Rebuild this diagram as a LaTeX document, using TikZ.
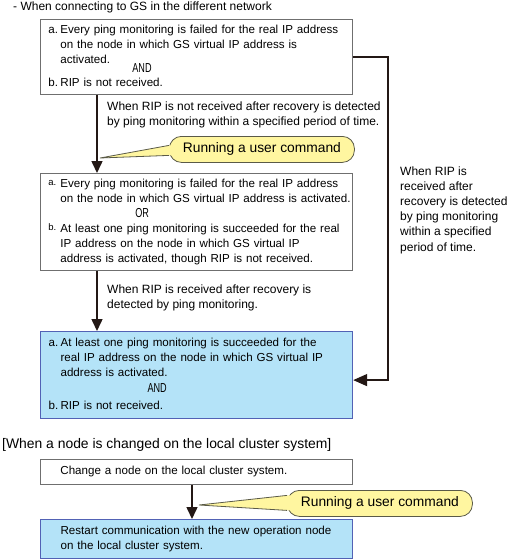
\documentclass[tikz,border=0pt]{standalone}
\usepackage{fontspec}
\setmainfont{Liberation Sans}
\usepackage{graphicx}
\usetikzlibrary{arrows.meta}

\definecolor{inkline}{HTML}{231815}
\definecolor{boxline}{HTML}{6F6F6F}
\definecolor{goalfill}{HTML}{B4E3F8}
\definecolor{goalline}{HTML}{5262B5}
\definecolor{tipfill}{HTML}{FFF6A0}
\definecolor{tipline}{HTML}{5A5A48}

\newcommand{\joinword}[1]{\scalebox{0.7}[1]{\fontsize{13}{13}\selectfont #1}}
\newcommand{\itemmark}[1]{\makebox[12pt][l]{#1}}
\newcommand{\smallmark}[1]{\raisebox{1.5pt}{\fontsize{9.5}{9.5}\selectfont #1}}

\begin{document}
\begin{tikzpicture}[x=1pt, y=-1pt,
  condbox/.style={draw=boxline, line width=0.8pt, fill=white, anchor=north west,
    text width=296pt, align=left, inner xsep=8pt, inner ysep=0pt,
    font=\fontsize{11.6}{15}\selectfont},
  goalbox/.style={condbox, draw=goalline, fill=goalfill, line width=1.2pt},
  note/.style={anchor=west, align=left, inner sep=0pt, font=\fontsize{12}{15.2}\selectfont},
  bubble/.style={draw=tipline, fill=tipfill, line width=0.8pt, rounded corners=12pt,
    minimum height=26pt, minimum width=185pt, anchor=north west,
    font=\fontsize{13.8}{16}\selectfont},
  flow/.style={draw=inkline, line width=1.5pt, -{Triangle[length=12pt,width=11pt]}}
]
\useasboundingbox (0,0) rectangle (511,560);

% different network
\node[note] (head1) at (13,7) {- When connecting to GS in the different network};

\node[condbox, minimum height=75pt] (cond1) at (40,19) {%
  \begin{tabular}{@{}l@{}l@{}}
  \itemmark{a.} & Every ping monitoring is failed for the real IP address\\
   & on the node in which GS virtual IP address is\\
   & activated.\\[-6pt]
   & \hspace*{72pt}\joinword{AND}\\[-1pt]
  \itemmark{b.} & RIP is not received.
  \end{tabular}};

\node[condbox, minimum height=97pt] (cond2) at (40,173) {%
  \begin{tabular}{@{}l@{}l@{}}
  \itemmark{\smallmark{a.}} & Every ping monitoring is failed for the real IP address\\
   & on the node in which GS virtual IP address is activated.\\
   & \hspace*{75pt}\joinword{OR}\\
  \itemmark{\smallmark{b.}} & At least one ping monitoring is succeeded for the real\\
   & IP address on the node in which GS virtual IP\\
   & address is activated, though RIP is not received.
  \end{tabular}};

\node[goalbox, minimum height=87pt] (goal1) at (40,331) {%
  \begin{tabular}{@{}l@{}l@{}}
  \itemmark{a.} & At least one ping monitoring is succeeded for the\\
   & real IP address on the node in which GS virtual IP\\
   & address is activated.\\[1pt]
   & \hspace*{87pt}\joinword{AND}\\[2pt]
  \itemmark{b.} & RIP is not received.
  \end{tabular}};

\node[note] (lbl1) at (107,115) {When RIP is not received after recovery is detected\\by ping monitoring within a specified period of time.};
\node[note] (lbl2) at (107,298) {When RIP is received after recovery is\\detected by ping monitoring.};
\node[note] (lbl3) at (400,210) {When RIP is\\received after\\recovery is detected\\by ping monitoring\\within a specified\\period of time.};

\coordinate (colA) at (97,0);
\coordinate (colB) at (388,0);
\coordinate (goal1in) at ([yshift=-5pt]goal1.east);
\draw[flow] (cond1.south -| colA) -- (cond2.north -| colA);
\draw[flow] (cond2.south -| colA) -- (goal1.north -| colA);
\draw[flow, -{Triangle[length=14pt,width=12pt]}] (cond1.east) -- (cond1.east -| colB) -- (colB |- goal1in) -- (goal1in);

\node[bubble] (cmd1) at (169,136) {Running a user command};
\coordinate (tip1) at (100,158);
\fill[tipfill] ([yshift=4pt]cmd1.west) -- (tip1) -- ([yshift=-6pt]cmd1.west)
  -- ([shift={(5pt,-6pt)}]cmd1.west) -- ([shift={(5pt,4pt)}]cmd1.west) -- cycle;
\draw[tipline, line width=0.8pt] ([yshift=4pt]cmd1.west) -- (tip1) -- ([yshift=-6pt]cmd1.west);

% local cluster system
\node[note, font=\fontsize{13.9}{16}\selectfont] (head2) at (2,445) {[When a node is changed on the local cluster system]};

\node[condbox, minimum height=25pt] (change) at (40,459) {%
  \begin{tabular}{@{}l@{}l@{}}
  \itemmark{} & Change a node on the local cluster system.
  \end{tabular}};
\node[goalbox, minimum height=39pt] (restart) at (40,519) {%
  \begin{tabular}{@{}l@{}l@{}}
  \itemmark{} & Restart communication with the new operation node\\
   & on the local cluster system.
  \end{tabular}};

\coordinate (colC) at (192,0);
\draw[flow] (change.south -| colC) -- (restart.north -| colC);

\node[bubble] (cmd2) at (287,490) {Running a user command};
\coordinate (tip2) at (199,505);
\fill[tipfill] ([yshift=8pt]cmd2.west) -- (tip2) -- ([yshift=-7pt]cmd2.west)
  -- ([shift={(5pt,-7pt)}]cmd2.west) -- ([shift={(5pt,8pt)}]cmd2.west) -- cycle;
\draw[tipline, line width=0.8pt] ([yshift=8pt]cmd2.west) -- (tip2) -- ([yshift=-7pt]cmd2.west);
\end{tikzpicture}
\end{document}
